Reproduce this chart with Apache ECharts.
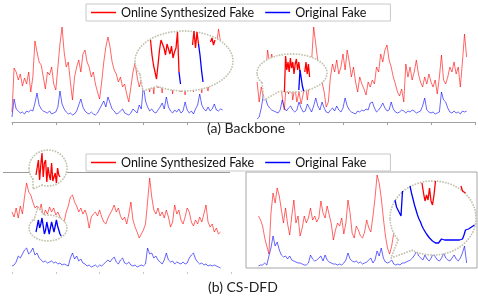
<!DOCTYPE html>
<html><head><meta charset="utf-8">
<script src="https://cdn.jsdelivr.net/npm/echarts@6/dist/echarts.min.js"></script>
<style>html,body{margin:0;padding:0;background:#fff}#c{width:478px;height:296px}</style>
</head><body><div id="c"></div>
<script>
var seriesNames = ['Online Synthesized Fake', 'Original Fake'];
var captions = ['(a) Backbone', '(b) CS-DFD'];
var xTicks = [0, 21, 42, 63, 84, 105];

// (a) Backbone, left panel
var tlRed = [10,54,50,42,48,36,44,38,50,30,45,81,70,60,57,45,33,50,47,55,38,32,55,78,95,70,55,60,40,22,45,55,62,50,68,72,60,55,45,50,38,30,23,40,60,75,85,75,60,52,48,40,45,35,38,28,20,35,50,59,45,35,42,30,38,
  50,30,45,28,55,34,48,29,60,40,32,52,28,45,36,58,30,42,27,50,35,47,30,55,33,44,29,52,38,31,46,40,60,75,93,80,72];
var tlBlue = [5,23,13,11,9,10,8,11,10,12,11,19,29,17,13,11,10,9,11,8,9,10,15,31,18,13,10,8,9,7,8,11,17,23,15,11,9,8,10,8,7,9,13,17,21,15,25,19,13,11,8,9,11,13,9,8,7,9,13,11,9,17,13,37,21,15,11,13,10,9,12,15,19,13,25,15,11,9,12,10,13,9,11,20,12,9,11,8,13,17,28,17,13,11,15,11,13,18,12,11,13,12];
var tlZoomRed = [null,null,null,null,null,null,null,50,35,25,18,11,25,40,50,52,42,35,46,48,36,44,32,38,42,58,18,null,null,null,null,null,null,null,null,45,59,42,58,46,null,null,null,null,null,null,null,48,52,45,50,null,null,null,null,null,null,null,null,null,null];
var tlZoomBlue = [null,null,null,null,null,null,null,null,null,null,null,null,null,null,null,null,null,null,null,null,null,null,null,null,null,null,18,6,null,null,null,null,null,null,null,null,null,null,null,46,35,20,8,null,null,null,null,null,null,null,null,null,null,null,null,null,null,null,null,null,null];

// (a) Backbone, right panel
var trRed = [40,20,35,25,45,72,58,68,50,40,30,45,25,12,40,28,45,22,35,20,30,18,28,38,22,40,60,95,78,60,48,40,30,15,20,45,58,50,62,48,55,68,52,72,60,45,55,40,30,45,38,33,27,40,35,42,38,55,50,68,60,72,77,62,55,45,38,30,26,33,20,58,45,55,42,50,62,48,40,35,45,38,48,40,35,42,28,45,67,42,38,45,55,50,60,48,55,35,60,88,65];
var trBlue = [3,5,14,27,24,17,14,12,11,10,9,12,22,14,11,14,16,12,10,12,20,14,10,11,18,14,10,16,24,16,12,20,14,10,9,12,14,11,16,12,10,14,24,16,12,10,9,8,11,10,12,11,13,12,19,20,14,10,12,15,19,14,11,12,20,13,10,9,10,12,11,9,11,10,12,11,9,10,11,16,24,12,10,9,10,8,9,10,30,22,20,14,10,9,11,9,10,8,11,10,11];
var trZoomRed = [null,null,null,null,null,null,null,null,null,null,null,null,null,null,null,null,null,null,null,null,null,null,0,36,22,30,20,34,24,30,18,28,33,22,30,20,null,null,null,20,30,18,28,15,null,null,null,null,null,null,null,null,null,null,null,null,null,null,null];
var trZoomBlue = [null,null,null,null,null,null,null,null,null,null,null,null,null,null,null,null,null,null,null,null,null,null,null,null,null,null,null,null,null,null,null,null,null,null,2,22,14,6,1,null,null,null,null,null,null,null,null,null,null,null,null,null,null,null,null,null,null,null,null];

// (b) CS-DFD, left panel
var blRed = [60,55,64,54,66,58,75,89,80,77,70,64,66,60,68,55,62,58,65,60,64,57,60,55,52,50,60,66,75,77,70,66,60,64,58,62,56,44,55,58,60,56,62,55,50,48,54,58,62,67,60,64,56,52,55,48,58,70,52,45,40,34,38,42,48,70,94,75,62,58,64,56,60,54,62,55,45,50,67,58,62,52,48,55,64,60,50,46,52,48,55,50,58,67,50,45,48,40,44,38,40];
var blBlue = [6,7,10,16,14,18,22,24,18,20,24,17,19,14,12,10,11,9,10,11,9,10,8,9,7,8,7,6,14,19,13,16,11,13,9,8,6,7,5,6,7,5,7,6,8,10,12,10,13,15,10,8,12,14,9,8,10,7,6,7,5,6,7,6,8,24,18,19,14,16,12,10,8,12,19,12,10,11,8,10,9,8,10,8,9,14,17,19,13,10,8,9,7,8,6,7,6,7,6,5,4];
var blZoomTopRed = [10,12,25,5,20,32,8,22,25,3,18,10,5,22,4,8,12,2,17,10,8];
var blZoomBottomBlue = [8,10,20,12,16,22,14,6,10,18,12,6,12,18,16,8,14,20,14,10,6,4];

// (b) CS-DFD, right panel
var brRed = [52,48,42,30,22,14,55,75,65,80,72,58,45,60,44,33,52,68,45,52,32,40,52,45,50,60,48,52,46,50,67,55,50,62,53,44,28,38,45,42,50,34,45,68,55,35,30,42,38,32,30,36,48,40,36,52,70,93,85,70,50,32,20,14,22,35,40,48,35,52,44,38,50,42,36,45,55,40,33,47,50,38,42,35,48,52,40,36,44,50,38,34,46,42,37,48,40,35,44,50,42];
var brBlue = [2,3,3,5,3,12,20,32,22,26,18,13,11,12,9,12,8,7,6,5,5,4,3,3,5,13,9,7,8,10,12,7,13,8,6,5,4,4,3,4,3,5,8,15,9,7,6,7,5,6,4,5,6,8,10,5,8,17,12,20,10,6,5,6,8,4,3,4,3,5,5,6,7,8,10,13,17,12,10,8,13,9,7,10,15,11,8,7,10,15,10,8,7,10,13,9,7,10,15,22,5];
var brZoomRed = [null,null,null,null,null,null,null,null,null,null,null,null,null,null,null,null,null,null,null,null,72,62,54,60,55,67,54,50,60,74,null,null,null,null,null,null,null,null,null,null,null,null,null,null,null,null,69,64,66,62,null,null,null,null,null,null];
var brZoomBlue = [null,null,55,48,45,44,39,64,null,null,null,null,69,62,56,50,45,40,36,33,29,26,24,21,19,17,15,14,12,12,11,12,14,16,17,15,14,15,16,15,14,15,14,15,16,15,15,16,20,25,27,26,27,28,29,30];

var RED = '#ff0000', BLUE = '#0000ff';
var FONT = 'Lato';

function pts(arr, off) { return arr.map(function (v, i) { return [i + off, v]; }); }

var grids = [
  {left: 12, top: 22, width: 219, height: 100},
  {left: 255, top: 22, width: 220, height: 100},
  {left: 12, top: 172, width: 219, height: 100},
  {left: 246, top: 172, width: 231, height: 96, show: true, borderColor: '#a6a6a6', borderWidth: 1},
  {left: 140, top: 30, width: 90, height: 60},
  {left: 258, top: 55, width: 70, height: 37},
  {left: 36, top: 150, width: 26, height: 35},
  {left: 36, top: 215, width: 27, height: 25},
  {left: 392, top: 181, width: 84, height: 74}
];
var xAxes = [
  {gridIndex: 0, type: 'value', min: 0, max: 105, interval: 21, axisLine: {lineStyle: {color: '#a0a0a0'}}, axisTick: {length: 3, lineStyle: {color: '#a0a0a0'}}, axisLabel: {show: false}, splitLine: {show: false}},
  {gridIndex: 1, type: 'value', min: 0, max: 105, interval: 21, axisLine: {lineStyle: {color: '#a0a0a0'}}, axisTick: {length: 3, lineStyle: {color: '#a0a0a0'}}, axisLabel: {show: false}, splitLine: {show: false}},
  {gridIndex: 2, type: 'value', min: 0, max: 105, interval: 21, axisLine: {show: false}, axisTick: {length: 2, lineStyle: {color: '#c8c8c8'}}, axisLabel: {show: false}, splitLine: {show: false}},
  {gridIndex: 3, type: 'value', min: -6, max: 105, show: false},
  {gridIndex: 4, type: 'value', min: 0, max: 60, show: false},
  {gridIndex: 5, type: 'value', min: 0, max: 58.33, show: false},
  {gridIndex: 6, type: 'value', min: 0, max: 21.67, show: false},
  {gridIndex: 7, type: 'value', min: 0, max: 22.5, show: false},
  {gridIndex: 8, type: 'value', min: 0, max: 56, show: false}
];
var yMax = [100, 100, 100, 96, 60, 37, 35, 25, 74];
var yAxes = yMax.map(function (m, k) { return {gridIndex: k, type: 'value', min: 0, max: m, show: false}; });

function line(name, data, k, color, w, z) {
  return {name: name, type: 'line', xAxisIndex: k, yAxisIndex: k, data: data, showSymbol: false, symbol: 'none',
    color: color, lineStyle: {width: w, color: color}, z: z || 2, animation: false, silent: true, connectNulls: false};
}

var series = [
  line(seriesNames[0], pts(tlRed, 0), 0, RED, 0.6),
  line(seriesNames[1], pts(tlBlue, 0), 0, BLUE, 0.6),
  line(seriesNames[0], pts(trRed, 1), 1, RED, 0.6),
  line(seriesNames[1], pts(trBlue, 1), 1, BLUE, 0.6),
  line(seriesNames[0], pts(blRed, 0), 2, RED, 0.6),
  line(seriesNames[1], pts(blBlue, 0), 2, BLUE, 0.6),
  line(seriesNames[0], pts(brRed, 0), 3, RED, 0.6),
  line(seriesNames[1], pts(brBlue, 0), 3, BLUE, 0.6),
  line('zoomA1r', pts(tlZoomRed, 0), 4, RED, 1.3, 20),
  line('zoomA1b', pts(tlZoomBlue, 0), 4, BLUE, 1.3, 20),
  line('zoomA2r', pts(trZoomRed, 0), 5, RED, 1.3, 20),
  line('zoomA2b', pts(trZoomBlue, 0), 5, BLUE, 1.3, 20),
  line('zoomB1r', pts(blZoomTopRed, 0), 6, RED, 1.3, 20),
  line('zoomB1b', pts(blZoomBottomBlue, 0), 7, BLUE, 1.3, 20),
  line('zoomB2r', pts(brZoomRed, 0), 8, RED, 1.3, 20),
  line('zoomB2b', pts(brZoomBlue, 0), 8, BLUE, 1.3, 20)
];

var DOT = '#c2c2ad';
var dotStyle = {fill: 'none', stroke: DOT, lineWidth: 1.8, lineDash: [0.1, 2.7], lineCap: 'round'};
function bubble(cx, cy, rx, ry, b1, tip, b2) {
  return [
    {type: 'ellipse', z: 10, shape: {cx: cx, cy: cy, rx: rx, ry: ry}, style: {fill: '#fff', stroke: DOT, lineWidth: 1.8, lineDash: [0.1, 2.7], lineCap: 'round'}},
    {type: 'polygon', z: 11, shape: {points: [b1, tip, b2, [cx, cy]]}, style: {fill: '#fff'}},
    {type: 'polyline', z: 12, shape: {points: [b1, tip, b2]}, style: dotStyle}
  ];
}
var graphics = [].concat(
  [{type: 'line', z: 1, shape: {x1: 3, y1: 172.5, x2: 230, y2: 172.5}, style: {stroke: '#9a9a9a', lineWidth: 1}}],
  bubble(184, 61, 49, 30, [140, 75], [143, 91], [158, 86]),
  bubble(292, 73, 35, 19, [262, 83], [264, 100], [280, 91]),
  bubble(48, 168, 19, 18, [33, 179], [33, 189], [42, 185]),
  bubble(48, 228, 19, 13, [34, 220], [38, 207], [44, 215]),
  bubble(433, 218, 43, 37, [398, 240], [391, 258], [413, 250])
);

function legend(top) {
  return {top: top, left: 86, orient: 'horizontal', data: [{name: seriesNames[0], icon: 'rect'}, {name: seriesNames[1], icon: 'rect'}],
    itemWidth: 25, itemHeight: 1.5, itemGap: 11, borderColor: '#c8c8c8', borderWidth: 1, padding: [2, 24, 2, 5],
    textStyle: {fontFamily: FONT, fontSize: 12.5, color: '#111'}, selectedMode: false, backgroundColor: '#fff', z: 30};
}

var chart = echarts.init(document.getElementById('c'), null, {renderer: 'canvas'});
chart.setOption({
  animation: false,
  backgroundColor: '#fff',
  title: [
    {text: captions[0], left: 207, top: 121, padding: 0, textStyle: {fontFamily: FONT, fontSize: 14, fontWeight: 'normal', color: '#222'}},
    {text: captions[1], left: 208, top: 280, padding: 0, textStyle: {fontFamily: FONT, fontSize: 14, fontWeight: 'normal', color: '#222'}}
  ],
  legend: [legend(4), legend(154)],
  grid: grids,
  xAxis: xAxes,
  yAxis: yAxes,
  series: series,
  graphic: graphics
});
</script></body></html>
